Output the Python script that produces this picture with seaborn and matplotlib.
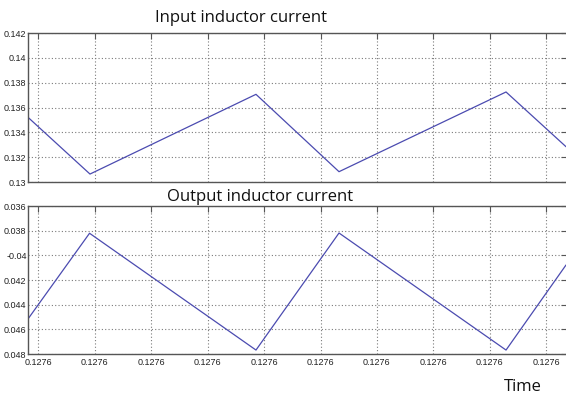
import matplotlib
matplotlib.use("Agg")
import matplotlib.pyplot as plt
import seaborn as sns
import pandas as pd

# Time instants (s) of the switching corners for both inductor currents
t_input = [0.127600814, 0.127601913, 0.127604856, 0.127606328, 0.127609289, 0.127610353]
i_input = [0.13521, 0.13064, 0.13706, 0.13083, 0.13725, 0.13284]

t_output = [0.127600814, 0.127601905, 0.127604856, 0.127606328, 0.127609289, 0.127610353]
i_output = [-0.04516, -0.03821, -0.04768, -0.03819, -0.04768, -0.04078]

x_ticks = [0.127601 + k * 1e-6 for k in range(10)]
top_yticks = [0.130, 0.132, 0.134, 0.136, 0.138, 0.140, 0.142]
top_ylabels = ["0.13", "0.132", "0.134", "0.136", "0.138", "0.14", "0.142"]
bot_yticks = [-0.048, -0.046, -0.044, -0.042, -0.040, -0.038, -0.036]
bot_ylabels = ["0.048", "0.046", "0.044", "0.042", "-0.04", "0.038", "0.036"]

sns.set_style("white")
tick_font = "Liberation Sans"
title_font = "Open Sans"

fig = plt.figure(figsize=(5.66, 3.99), dpi=100)
W, H = 566.0, 399.0
left = 28 / W
width = (567 - 28) / W
ax1 = fig.add_axes([left, 1 - 182 / H, width, (182 - 33) / H])
ax2 = fig.add_axes([left, 1 - 354 / H, width, (354 - 206) / H])

line_color = "#4b4bb0"
df1 = pd.DataFrame({"t": t_input, "i": i_input})
df2 = pd.DataFrame({"t": t_output, "i": i_output})
sns.lineplot(data=df1, x="t", y="i", ax=ax1, color=line_color, linewidth=0.9, estimator=None, sort=False)
sns.lineplot(data=df2, x="t", y="i", ax=ax2, color=line_color, linewidth=0.9, estimator=None, sort=False)

xlim = (0.127601 - 0.186e-6, 0.127601 + 9.37e-6)
for ax, yt, yl, ylim in [(ax1, top_yticks, top_ylabels, (0.130, 0.142)),
                         (ax2, bot_yticks, bot_ylabels, (-0.048, -0.036))]:
    ax.set_xlim(*xlim)
    ax.set_ylim(*ylim)
    ax.set_xticks(x_ticks)
    ax.set_yticks(yt)
    ax.set_yticklabels(yl, fontfamily=tick_font, fontsize=6.5)
    ax.set_xlabel("")
    ax.set_ylabel("")
    ax.grid(True, linestyle=(0, (1, 2)), color="#7a7a7a", linewidth=0.8)
    ax.tick_params(direction="in", length=4, width=0.8, colors="#555555",
                   top=True, right=True, labelcolor="#222222", pad=1)
    for s in ["top", "bottom", "left"]:
        ax.spines[s].set_color("#555555")
        ax.spines[s].set_linewidth(1.0)
    ax.spines["right"].set_visible(False)

ax1.set_xticklabels([])
ax2.set_xticklabels(["%.4f" % v for v in x_ticks], fontfamily=tick_font, fontsize=6.5)
ax2.tick_params(axis="x", pad=3)

fig.text(241 / W, 1 - 18 / H, "Input inductor current", ha="center", va="center",
         fontfamily=title_font, fontsize=12, color="#111111")
fig.text(260 / W, 1 - 197 / H, "Output inductor current", ha="center", va="center",
         fontfamily=title_font, fontsize=12, color="#111111")
fig.text(523 / W, 1 - 387 / H, "Time", ha="center", va="center",
         fontfamily=title_font, fontsize=12, color="#111111")

fig.savefig("out.png", dpi=100)
